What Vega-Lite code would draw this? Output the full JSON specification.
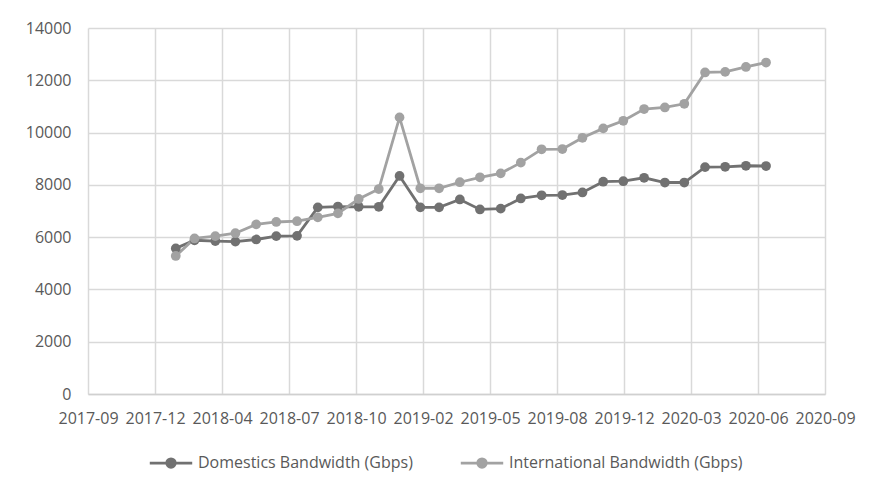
{
  "$schema": "https://vega.github.io/schema/vega-lite/v6.json",
  "width": 737,
  "height": 366,
  "autosize": "none",
  "padding": {"left": 88, "top": 28, "right": 44, "bottom": 93},
  "background": "white",
  "data": {
    "values": [
      {"date": "2018-01-31", "Domestics Bandwidth (Gbps)": 5570, "International Bandwidth (Gbps)": 5280},
      {"date": "2018-02-28", "Domestics Bandwidth (Gbps)": 5880, "International Bandwidth (Gbps)": 5950},
      {"date": "2018-03-31", "Domestics Bandwidth (Gbps)": 5850, "International Bandwidth (Gbps)": 6040},
      {"date": "2018-04-30", "Domestics Bandwidth (Gbps)": 5830, "International Bandwidth (Gbps)": 6150},
      {"date": "2018-05-31", "Domestics Bandwidth (Gbps)": 5910, "International Bandwidth (Gbps)": 6490},
      {"date": "2018-06-30", "Domestics Bandwidth (Gbps)": 6040, "International Bandwidth (Gbps)": 6580},
      {"date": "2018-07-31", "Domestics Bandwidth (Gbps)": 6050, "International Bandwidth (Gbps)": 6610},
      {"date": "2018-08-31", "Domestics Bandwidth (Gbps)": 7140, "International Bandwidth (Gbps)": 6760},
      {"date": "2018-09-30", "Domestics Bandwidth (Gbps)": 7170, "International Bandwidth (Gbps)": 6910},
      {"date": "2018-10-31", "Domestics Bandwidth (Gbps)": 7160, "International Bandwidth (Gbps)": 7460},
      {"date": "2018-11-30", "Domestics Bandwidth (Gbps)": 7160, "International Bandwidth (Gbps)": 7840},
      {"date": "2018-12-31", "Domestics Bandwidth (Gbps)": 8340, "International Bandwidth (Gbps)": 10580},
      {"date": "2019-01-31", "Domestics Bandwidth (Gbps)": 7140, "International Bandwidth (Gbps)": 7870},
      {"date": "2019-02-28", "Domestics Bandwidth (Gbps)": 7140, "International Bandwidth (Gbps)": 7870},
      {"date": "2019-03-31", "Domestics Bandwidth (Gbps)": 7440, "International Bandwidth (Gbps)": 8100},
      {"date": "2019-04-30", "Domestics Bandwidth (Gbps)": 7060, "International Bandwidth (Gbps)": 8290},
      {"date": "2019-05-31", "Domestics Bandwidth (Gbps)": 7090, "International Bandwidth (Gbps)": 8440},
      {"date": "2019-06-30", "Domestics Bandwidth (Gbps)": 7480, "International Bandwidth (Gbps)": 8850},
      {"date": "2019-07-31", "Domestics Bandwidth (Gbps)": 7600, "International Bandwidth (Gbps)": 9360},
      {"date": "2019-08-31", "Domestics Bandwidth (Gbps)": 7610, "International Bandwidth (Gbps)": 9370},
      {"date": "2019-09-30", "Domestics Bandwidth (Gbps)": 7710, "International Bandwidth (Gbps)": 9800},
      {"date": "2019-10-31", "Domestics Bandwidth (Gbps)": 8120, "International Bandwidth (Gbps)": 10160},
      {"date": "2019-11-30", "Domestics Bandwidth (Gbps)": 8140, "International Bandwidth (Gbps)": 10450},
      {"date": "2019-12-31", "Domestics Bandwidth (Gbps)": 8270, "International Bandwidth (Gbps)": 10900},
      {"date": "2020-01-31", "Domestics Bandwidth (Gbps)": 8090, "International Bandwidth (Gbps)": 10960},
      {"date": "2020-02-29", "Domestics Bandwidth (Gbps)": 8090, "International Bandwidth (Gbps)": 11100},
      {"date": "2020-03-31", "Domestics Bandwidth (Gbps)": 8680, "International Bandwidth (Gbps)": 12300},
      {"date": "2020-04-30", "Domestics Bandwidth (Gbps)": 8690, "International Bandwidth (Gbps)": 12320},
      {"date": "2020-05-31", "Domestics Bandwidth (Gbps)": 8730, "International Bandwidth (Gbps)": 12510},
      {"date": "2020-06-30", "Domestics Bandwidth (Gbps)": 8720, "International Bandwidth (Gbps)": 12680}
    ]
  },
  "transform": [
    {"fold": ["Domestics Bandwidth (Gbps)", "International Bandwidth (Gbps)"], "as": ["series", "value"]}
  ],
  "mark": {"type": "line", "strokeWidth": 2.8, "point": {"filled": true, "size": 95, "opacity": 1}},
  "encoding": {
    "x": {
      "field": "date",
      "type": "temporal",
      "scale": {
        "type": "utc",
        "domain": [
          {"year": 2017, "month": 9, "date": 22, "utc": true},
          {"year": 2020, "month": 9, "date": 26, "utc": true}
        ]
      },
      "axis": {
        "title": null,
        "values": [
          {"year": 2017, "month": 9, "date": 22, "utc": true},
          {"year": 2017, "month": 12, "date": 31, "utc": true},
          {"year": 2018, "month": 4, "date": 10, "utc": true},
          {"year": 2018, "month": 7, "date": 19, "utc": true},
          {"year": 2018, "month": 10, "date": 27, "utc": true},
          {"year": 2019, "month": 2, "date": 4, "utc": true},
          {"year": 2019, "month": 5, "date": 15, "utc": true},
          {"year": 2019, "month": 8, "date": 23, "utc": true},
          {"year": 2019, "month": 12, "date": 1, "utc": true},
          {"year": 2020, "month": 3, "date": 10, "utc": true},
          {"year": 2020, "month": 6, "date": 18, "utc": true},
          {"year": 2020, "month": 9, "date": 26, "utc": true}
        ],
        "format": "%Y-%m",
        "ticks": false,
        "labelPadding": 16,
        "labelOverlap": false,
        "labelFlush": false,
        "labelBound": false,
        "grid": true,
        "domain": true,
        "domainColor": "#d0d0d0",
        "domainWidth": 1.5
      }
    },
    "y": {
      "field": "value",
      "type": "quantitative",
      "scale": {"domain": [0, 14000], "nice": false},
      "axis": {
        "title": null,
        "values": [0, 2000, 4000, 6000, 8000, 10000, 12000, 14000],
        "format": "d",
        "ticks": false,
        "domain": false,
        "labelPadding": 17,
        "grid": true
      }
    },
    "color": {
      "field": "series",
      "type": "nominal",
      "scale": {
        "domain": ["Domestics Bandwidth (Gbps)", "International Bandwidth (Gbps)"],
        "range": ["#717171", "#a2a2a2"]
      },
      "legend": {
        "title": null,
        "orient": "none",
        "legendX": 60,
        "legendY": 412,
        "direction": "horizontal",
        "padding": 0,
        "symbolType": "M-1,0H1M0.2,0A0.2,0.2,0,1,1,-0.2,0A0.2,0.2,0,1,1,0.2,0Z",
        "symbolSize": 1800,
        "symbolStrokeWidth": 2.8,
        "labelOffset": 4,
        "columnPadding": 42,
        "labelLimit": 400,
        "encode": {
          "symbols": {
            "update": {
              "fill": {"scale": "color", "field": "value"},
              "stroke": {"scale": "color", "field": "value"},
              "opacity": {"value": 1}
            }
          }
        }
      }
    }
  },
  "config": {
    "view": {"stroke": null},
    "font": "Open Sans",
    "axis": {
      "labelFont": "Open Sans",
      "labelFontSize": 16,
      "labelColor": "#595959",
      "gridColor": "#d9d9d9",
      "gridWidth": 1.5,
      "gridOpacity": 1
    },
    "legend": {
      "labelFont": "Open Sans",
      "labelFontSize": 16,
      "labelColor": "#595959"
    }
  }
}
